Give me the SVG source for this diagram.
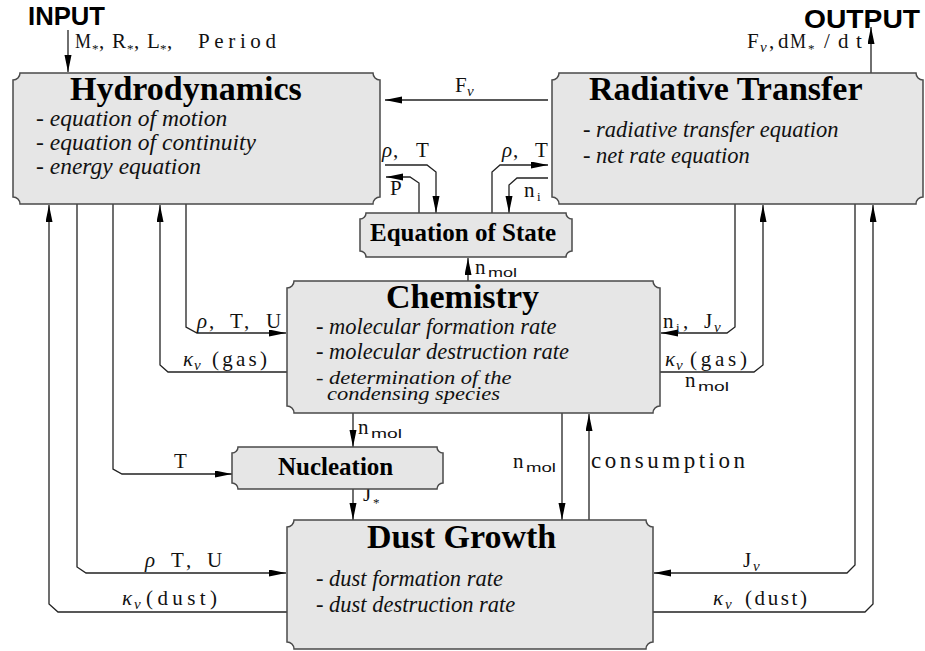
<svg xmlns="http://www.w3.org/2000/svg" width="925" height="651" viewBox="0 0 925 651">
<style>
.box{fill:#e6e6e6;stroke:#4a4a4a;stroke-width:1.5}
.title{font-family:"Liberation Serif",serif;font-weight:bold;font-size:34px;fill:#000}
.title2{font-family:"Liberation Serif",serif;font-weight:bold;font-size:25px;fill:#000}
.item{font-family:"Liberation Serif",serif;font-style:italic;font-size:22.5px;fill:#111}
.big{font-family:"Liberation Sans",Arial,sans-serif;font-weight:bold;font-size:25px;fill:#000}
.tt{font-family:"Liberation Serif",serif;font-size:21px;fill:#111}
.gr{font-family:"Liberation Serif",serif;font-style:italic;font-size:21px;fill:#111}
.sub{font-size:13px}
.ms{font-family:"Liberation Sans",sans-serif;font-size:13px}
.gs{font-family:"Liberation Serif",serif;font-style:italic;font-size:15px}
.ln{fill:none;stroke:#222;stroke-width:1.3;marker-end:url(#ah)}
</style>
<defs>
<marker id="ah" markerUnits="userSpaceOnUse" markerWidth="18" markerHeight="8" refX="17" refY="3.5" orient="auto">
<path d="M0,0 L17,3.5 L0,7 Z" fill="#000"/>
</marker>
</defs>

<g id="connectors">
<path class="ln" d="M68,30 V72"/>
<path class="ln" d="M871,73 V27"/>
<path class="ln" d="M548,100 H385"/>
<path class="ln" d="M385,165 H427 L436,172 V213"/>
<path class="ln" d="M419,213 V183 L410,177 H386"/>
<path class="ln" d="M492,213 V172 L500,165 H548"/>
<path class="ln" d="M548,178 H517 L509,185 V213"/>
<path class="ln" d="M468,281 V258"/>
<path class="ln" d="M353,413 V447"/>
<path class="ln" d="M353,489 V520"/>
<path class="ln" d="M562,413 V520"/>
<path class="ln" d="M589,520 V414"/>
<path class="ln" d="M186,204 V327 L197,333 H286"/>
<path class="ln" d="M287,372 H168 L160,365 V205"/>
<path class="ln" d="M113,204 V469 L122,474 H232"/>
<path class="ln" d="M77,204 V567 L86,573 H286"/>
<path class="ln" d="M287,612 H58 L49,604 V205"/>
<path class="ln" d="M735,204 V327 L727,333 H661"/>
<path class="ln" d="M660,372 H754 L763,365 V205"/>
<path class="ln" d="M855,204 V565 L847,573 H654"/>
<path class="ln" d="M653,612 H865 L873,604 V205"/>

<g id="labels">
<text class="big" x="28" y="25" textLength="77" lengthAdjust="spacingAndGlyphs">INPUT</text>
<text class="big" x="804" y="28" textLength="116" lengthAdjust="spacingAndGlyphs">OUTPUT</text>

<text class="tt" y="48"><tspan x="75" textLength="16" lengthAdjust="spacingAndGlyphs">M</tspan><tspan x="92" y="53" class="sub">*</tspan><tspan x="99" y="48">,</tspan><tspan x="112">R</tspan><tspan x="127" y="53" class="sub">*</tspan><tspan x="134" y="48">,</tspan><tspan x="147">L</tspan><tspan x="160" y="53" class="sub">*</tspan><tspan x="167" y="48">,</tspan><tspan x="198" textLength="78">Period</tspan></text>

<text class="tt" y="48"><tspan x="747">F</tspan><tspan x="760" y="52" class="gs">ν</tspan><tspan x="769" y="48">,</tspan><tspan x="778">d</tspan><tspan x="790" textLength="16" lengthAdjust="spacingAndGlyphs">M</tspan><tspan x="808" y="53" class="sub">*</tspan><tspan x="824" y="48">/</tspan><tspan x="838">d</tspan><tspan x="856">t</tspan></text>

<text class="tt" y="92"><tspan x="455">F</tspan><tspan x="467" y="96" class="gs">ν</tspan></text>

<text class="tt" y="157"><tspan x="382" class="gr">ρ</tspan><tspan x="393">,</tspan><tspan x="416">T</tspan></text>
<text class="tt" x="390" y="195">P</text>
<text class="tt" y="157"><tspan x="502" class="gr">ρ</tspan><tspan x="513">,</tspan><tspan x="535">T</tspan></text>
<text class="tt" y="197"><tspan x="524">n</tspan><tspan x="537" y="201" class="sub">i</tspan></text>

<text class="tt" y="274"><tspan x="475">n</tspan><tspan x="488" y="277" class="ms" textLength="29" lengthAdjust="spacingAndGlyphs">mol</tspan></text>

<text class="tt" y="328"><tspan x="197" class="gr">ρ</tspan><tspan x="209">,</tspan><tspan x="230">T</tspan><tspan x="244">,</tspan><tspan x="266">U</tspan></text>
<text class="tt" y="366"><tspan x="183" class="gr">κ</tspan><tspan x="194" y="370" class="gs">ν</tspan><tspan x="212" y="366" textLength="55">(gas)</tspan></text>

<text class="tt" x="174" y="468">T</text>
<text class="tt" y="567"><tspan x="145" class="gr">ρ</tspan><tspan x="171">T</tspan><tspan x="186">,</tspan><tspan x="207">U</tspan></text>
<text class="tt" y="605"><tspan x="122" class="gr">κ</tspan><tspan x="134" y="609" class="gs">ν</tspan><tspan x="146" y="605" textLength="71">(dust)</tspan></text>

<text class="tt" y="328"><tspan x="663">n</tspan><tspan x="676" y="332" class="sub">i</tspan><tspan x="683" y="328">,</tspan><tspan x="704">J</tspan><tspan x="714" y="332" class="gs">ν</tspan></text>
<text class="tt" y="366"><tspan x="665" class="gr">κ</tspan><tspan x="676" y="370" class="gs">ν</tspan><tspan x="690" y="366" textLength="57">(gas)</tspan></text>
<text class="tt" y="387"><tspan x="685">n</tspan><tspan x="698" y="391" class="ms" textLength="31" lengthAdjust="spacingAndGlyphs">mol</tspan></text>

<text class="tt" y="567"><tspan x="743">J</tspan><tspan x="753" y="571" class="gs">ν</tspan></text>
<text class="tt" y="605"><tspan x="713" class="gr">κ</tspan><tspan x="725" y="609" class="gs">ν</tspan><tspan x="745" y="605" textLength="62">(dust)</tspan></text>

<text class="tt" y="434"><tspan x="358">n</tspan><tspan x="371" y="438" class="ms" textLength="31" lengthAdjust="spacingAndGlyphs">mol</tspan></text>
<text class="tt" y="501"><tspan x="363">J</tspan><tspan x="373" y="507" class="sub">*</tspan></text>
<text class="tt" y="468"><tspan x="513">n</tspan><tspan x="526" y="472" class="ms" textLength="30" lengthAdjust="spacingAndGlyphs">mol</tspan></text>
<text class="tt" x="591" y="468" textLength="154" style="font-size:23px">consumption</text>
</g>
</g>

<g id="hydrodynamics">
<path class="box" d="M20,73 H373 A7,7 0 0 0 380,80 V197 A7,7 0 0 0 373,204 H20 A7,7 0 0 0 13,197 V80 A7,7 0 0 0 20,73 Z"/>
<text class="title" x="70" y="100">Hydrodynamics</text>
<text class="item" x="36" y="126" style="font-size:23.5px">- equation of motion</text>
<text class="item" x="36" y="150" style="font-size:23.5px">- equation of continuity</text>
<text class="item" x="36" y="174" style="font-size:23.5px">- energy equation</text>
</g>

<g id="radiative-transfer">
<path class="box" d="M559,73 H916 A7,7 0 0 0 923,80 V197 A7,7 0 0 0 916,204 H559 A7,7 0 0 0 552,197 V80 A7,7 0 0 0 559,73 Z"/>
<text class="title" x="589" y="100">Radiative Transfer</text>
<text class="item" x="583" y="137">- radiative transfer equation</text>
<text class="item" x="583" y="163">- net rate equation</text>
</g>

<g id="equation-of-state">
<path class="box" d="M366,213 H566 A6,6 0 0 0 572,219 V251 A6,6 0 0 0 566,257 H366 A6,6 0 0 0 360,251 V219 A6,6 0 0 0 366,213 Z"/>
<text class="title2" x="370" y="241">Equation of State</text>
</g>

<g id="chemistry">
<path class="box" d="M294,281 H653 A7,7 0 0 0 660,288 V406 A7,7 0 0 0 653,413 H294 A7,7 0 0 0 287,406 V288 A7,7 0 0 0 294,281 Z"/>
<text class="title" x="386" y="308">Chemistry</text>
<text class="item" x="316" y="334">- molecular formation rate</text>
<text class="item" x="316" y="359">- molecular destruction rate</text>
<text class="item" transform="translate(316,384) scale(1,0.8)">- determination of the</text>
<text class="item" transform="translate(327,400) scale(1,0.8)">condensing species</text>
</g>

<g id="nucleation">
<path class="box" d="M238,447 H437 A6,6 0 0 0 443,453 V483 A6,6 0 0 0 437,489 H238 A6,6 0 0 0 232,483 V453 A6,6 0 0 0 238,447 Z"/>
<text class="title2" x="278" y="475">Nucleation</text>
</g>

<g id="dust-growth">
<path class="box" d="M294,520 H646 A7,7 0 0 0 653,527 V642 A7,7 0 0 0 646,649 H294 A7,7 0 0 0 287,642 V527 A7,7 0 0 0 294,520 Z"/>
<text class="title" x="367" y="548">Dust Growth</text>
<text class="item" x="316" y="586">- dust formation rate</text>
<text class="item" x="316" y="612">- dust destruction rate</text>
</g>
</svg>
